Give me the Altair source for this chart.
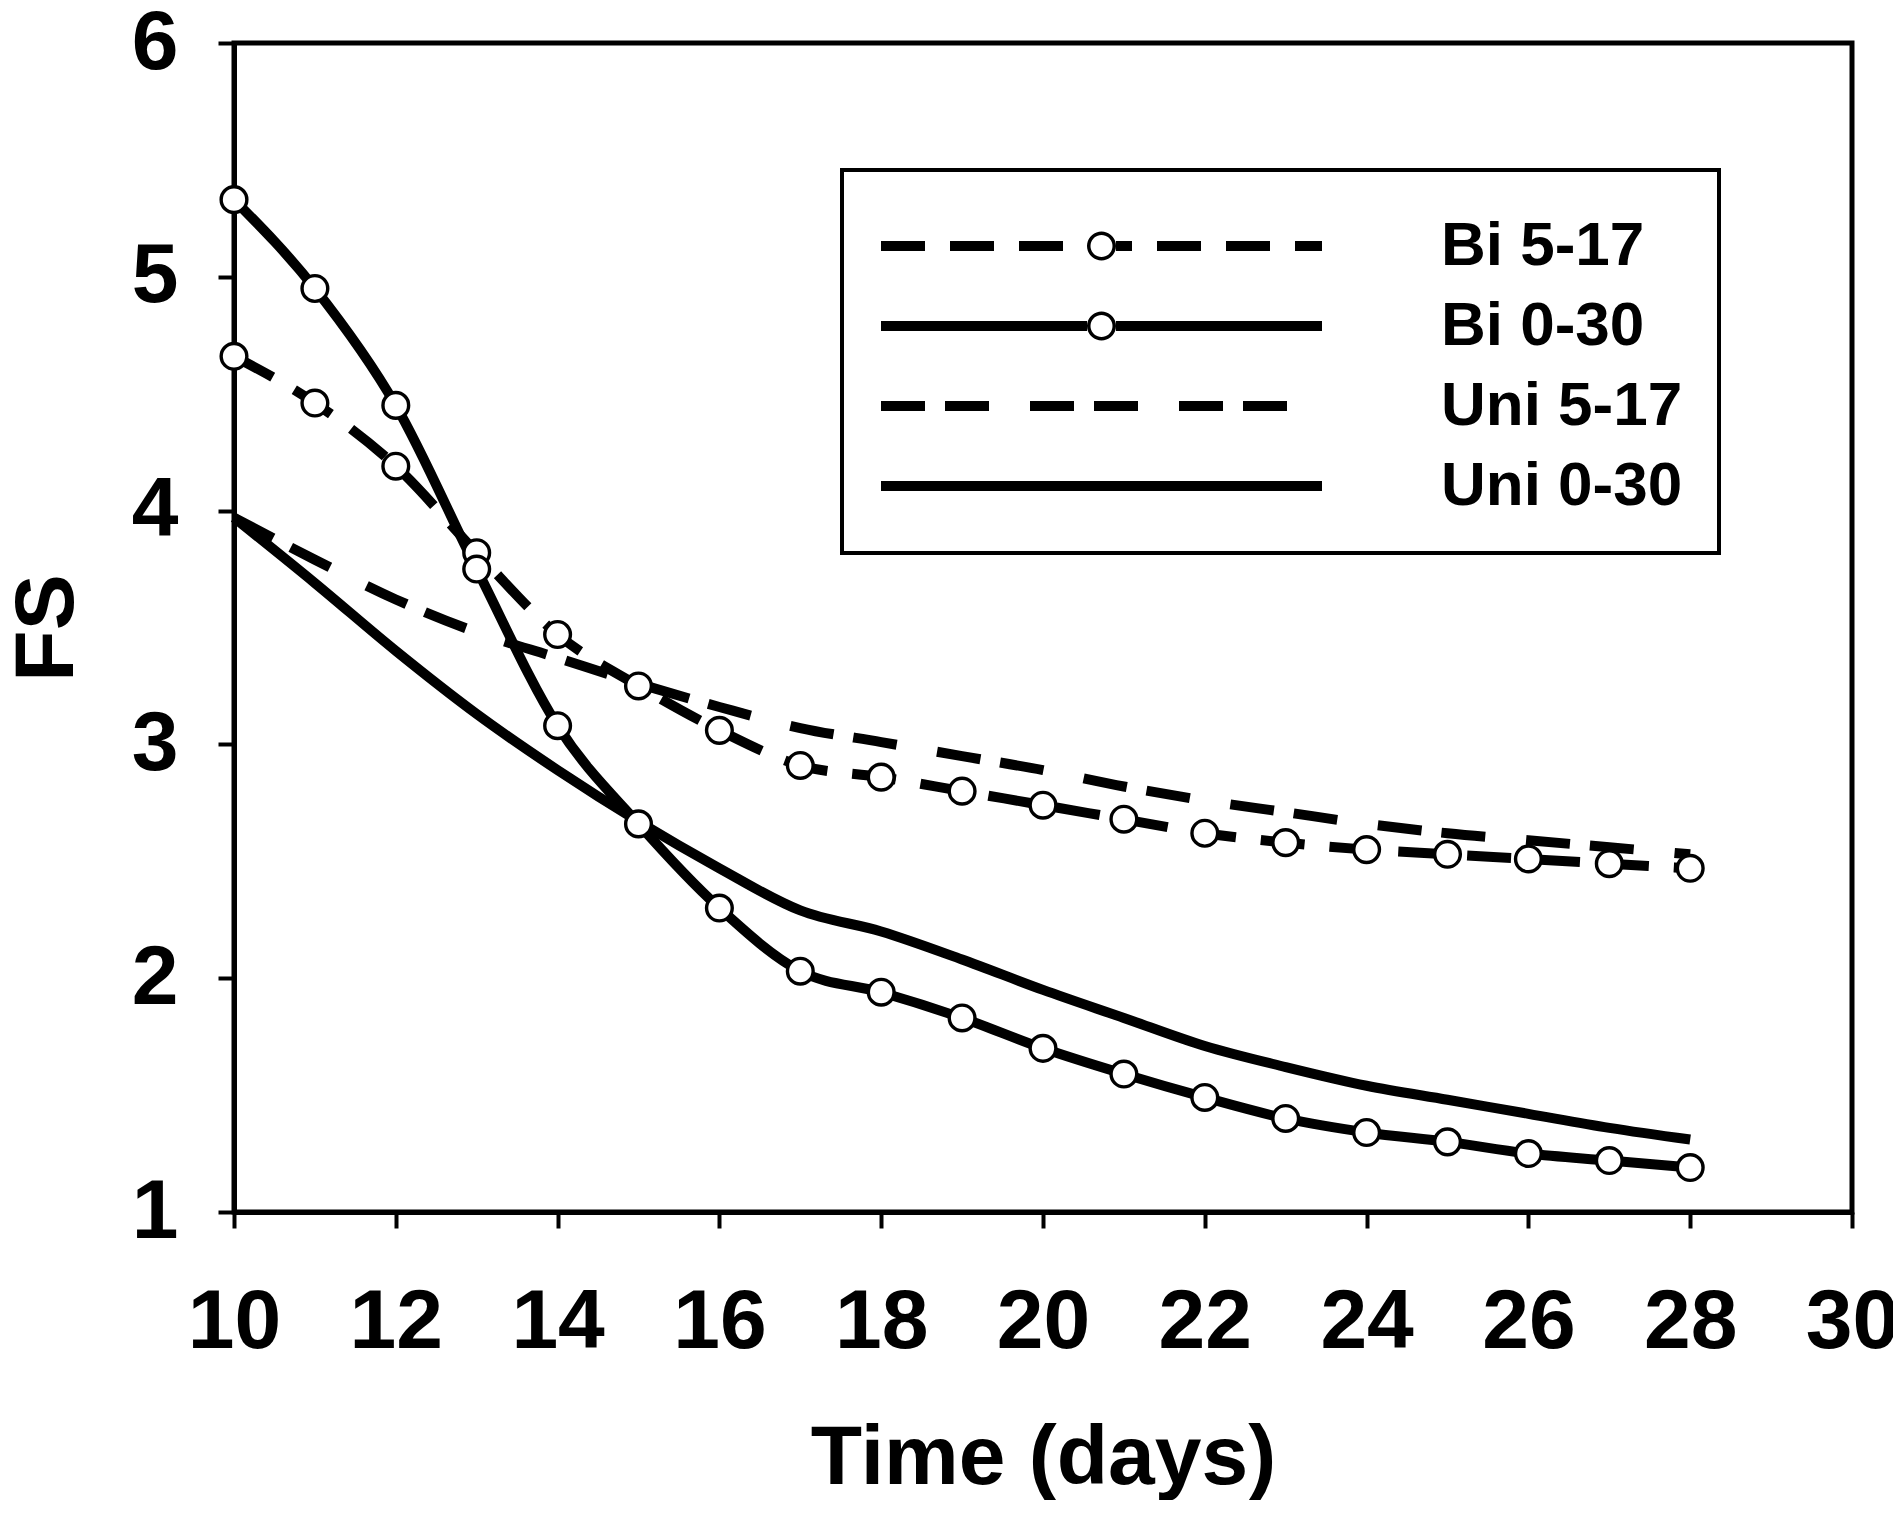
import math
import altair as alt
import pandas as pd

# ---------------- data ----------------
days = list(range(10, 29))
series_names = ["Bi 5-17", "Bi 0-30", "Uni 5-17", "Uni 0-30"]
bi_5_17 = [4.66, 4.46, 4.19, 3.82, 3.47, 3.25, 3.06, 2.91, 2.86, 2.80, 2.74,
           2.68, 2.62, 2.58, 2.55, 2.53, 2.51, 2.49, 2.47]
bi_0_30 = [5.33, 4.95, 4.45, 3.75, 3.08, 2.66, 2.30, 2.03, 1.94, 1.83, 1.70,
           1.59, 1.49, 1.40, 1.34, 1.30, 1.25, 1.22, 1.19]
uni_5_17 = [3.97, 3.79, 3.62, 3.48, 3.37, 3.26, 3.16, 3.07, 3.01, 2.95, 2.89,
            2.82, 2.76, 2.71, 2.66, 2.62, 2.59, 2.56, 2.53]
uni_0_30 = [3.97, 3.69, 3.40, 3.13, 2.89, 2.67, 2.47, 2.29, 2.20, 2.08, 1.95,
            1.83, 1.71, 1.62, 1.54, 1.48, 1.42, 1.36, 1.31]
x_ticks = [10, 12, 14, 16, 18, 20, 22, 24, 26, 28, 30]
y_ticks = [1, 2, 3, 4, 5, 6]
marked_series = ["Bi 5-17", "Bi 0-30"]

rows = []
for name, vals in zip(series_names, [bi_5_17, bi_0_30, uni_5_17, uni_0_30]):
    for d, v in zip(days, vals):
        rows.append({"day": d, "fs": v, "series": name})
df = pd.DataFrame(rows)

# ---------------- styles ----------------
FONT = "Liberation Sans"
LINE_W = 10
dash_bi = [44, 25]
dash_uni = [44, 20, 44, 41]
line_dash = {"Bi 5-17": dash_bi, "Bi 0-30": None, "Uni 5-17": dash_uni, "Uni 0-30": None}

# legend symbol paths (line sample + optional ring marker), in units of
# sqrt(symbolSize)/2 pixels
SYM_SIZE = 6400
U = math.sqrt(SYM_SIZE) / 2.0
HALF_LEN = 220.5
HALF_TH = LINE_W / 2.0
R_OUT, R_IN = 14.5, 11.0


def _f(v):
    return f"{v / U:.4f}"


def _rect(x0, x1, h=HALF_TH):
    return (f"M{_f(x0)},{_f(-h)}L{_f(x1)},{_f(-h)}"
            f"L{_f(x1)},{_f(h)}L{_f(x0)},{_f(h)}Z")


def _poly(r, n=36, reverse=False):
    pts = []
    for i in range(n):
        a = 2 * math.pi * i / n * (-1 if reverse else 1)
        pts.append((r * math.cos(a), r * math.sin(a)))
    return "M" + "L".join(f"{_f(x)},{_f(y)}" for x, y in pts) + "Z"


def _segments(pattern):
    segs, x, i = [], -HALF_LEN, 0
    while x < HALF_LEN:
        ln = pattern[i % len(pattern)]
        if i % 2 == 0:
            segs.append((x, min(x + ln, HALF_LEN)))
        x += ln
        i += 1
    return segs


def _symbol(pattern, marker):
    segs = _segments(pattern) if pattern else [(-HALF_LEN, HALF_LEN)]
    out = []
    for a, b in segs:
        if marker:
            if a < -R_OUT:
                out.append((a, min(b, -R_OUT)))
            if b > R_OUT:
                out.append((max(a, R_OUT), b))
        else:
            out.append((a, b))
    path = "".join(_rect(a, b) for a, b in out if b - a > 0.5)
    if marker:
        path += _poly(R_OUT) + _poly(R_IN, reverse=True)
    return path


legend_paths = [_symbol(line_dash[s], s in marked_series) for s in series_names]

x_enc = alt.X(
    "day:Q",
    scale=alt.Scale(domain=[10, 30], nice=False, zero=False),
    axis=alt.Axis(
        values=x_ticks, format="d", title="Time (days)", grid=False,
        labelFont=FONT, labelFontSize=84, labelFontWeight="bold", labelColor="black",
        labelPadding=53, labelFlush=False, labelOverlap=False,
        tickSize=16, tickWidth=4, tickColor="black",
        domainColor="black", domainWidth=5,
        titleFont=FONT, titleFontSize=84, titleFontWeight="bold", titleColor="black",
        titleX=809, titleY=271, titleBaseline="alphabetic", titleAlign="center",
    ),
)
y_enc = alt.Y(
    "fs:Q",
    scale=alt.Scale(domain=[1, 6], nice=False, zero=False),
    axis=alt.Axis(
        values=y_ticks, format="d", title="FS", grid=False,
        labelFont=FONT, labelFontSize=84, labelFontWeight="bold", labelColor="black",
        labelPadding=40, labelFlush=False, labelOverlap=False,
        tickSize=16, tickWidth=4, tickColor="black",
        domainColor="black", domainWidth=5,
        titleFont=FONT, titleFontSize=84, titleFontWeight="bold", titleColor="black",
        titleAngle=270, titleX=-162, titleY=584.5, titleBaseline="alphabetic",
        titleAlign="center",
    ),
)

layers = []
for s in series_names:
    mark_kw = dict(interpolate="monotone", strokeWidth=LINE_W, color="black", strokeCap="butt")
    if line_dash[s]:
        mark_kw["strokeDash"] = line_dash[s]
    layers.append(
        alt.Chart(df)
        .transform_filter(alt.datum.series == s)
        .mark_line(**mark_kw)
        .encode(x=x_enc, y=y_enc, order="day:Q")
    )

points = alt.Chart(df).transform_filter(
    alt.FieldOneOfPredicate(field="series", oneOf=marked_series)
).mark_point(
    shape="circle", filled=True, fill="white", stroke="black",
    strokeWidth=3.4, size=660, opacity=1,
).encode(x=x_enc, y=y_enc)

legend_layer = alt.Chart(df).mark_point(
    filled=True, color="black", opacity=0, size=SYM_SIZE
).encode(
    x=x_enc,
    y=y_enc,
    shape=alt.Shape(
        "series:N",
        scale=alt.Scale(domain=series_names, range=legend_paths),
        legend=alt.Legend(
            title=None, orient="none", legendX=608, legendY=127, direction="vertical",
            symbolSize=SYM_SIZE, symbolFillColor="black", symbolStrokeColor="black",
            symbolStrokeWidth=0, symbolOpacity=1, symbolOffset=183.5,
            labelOffset=299.5, labelFont=FONT, labelFontSize=62, labelFontWeight="bold",
            labelColor="black", labelLimit=0, padding=36, rowPadding=9,
            strokeColor="black",
        ),
    ),
)

chart = alt.layer(*layers, points, legend_layer).properties(
    width=1618,
    height=1169,
    autosize=alt.AutoSizeParams(type="none"),
    padding={"left": 226, "top": 35, "right": 41, "bottom": 288},
).configure(
    font=FONT, background="white"
).configure_view(
    stroke="black", strokeWidth=5
).configure_legend(
    strokeWidth=4
)

chart.save("out.html", embed_options={"renderer": "svg", "actions": False})
